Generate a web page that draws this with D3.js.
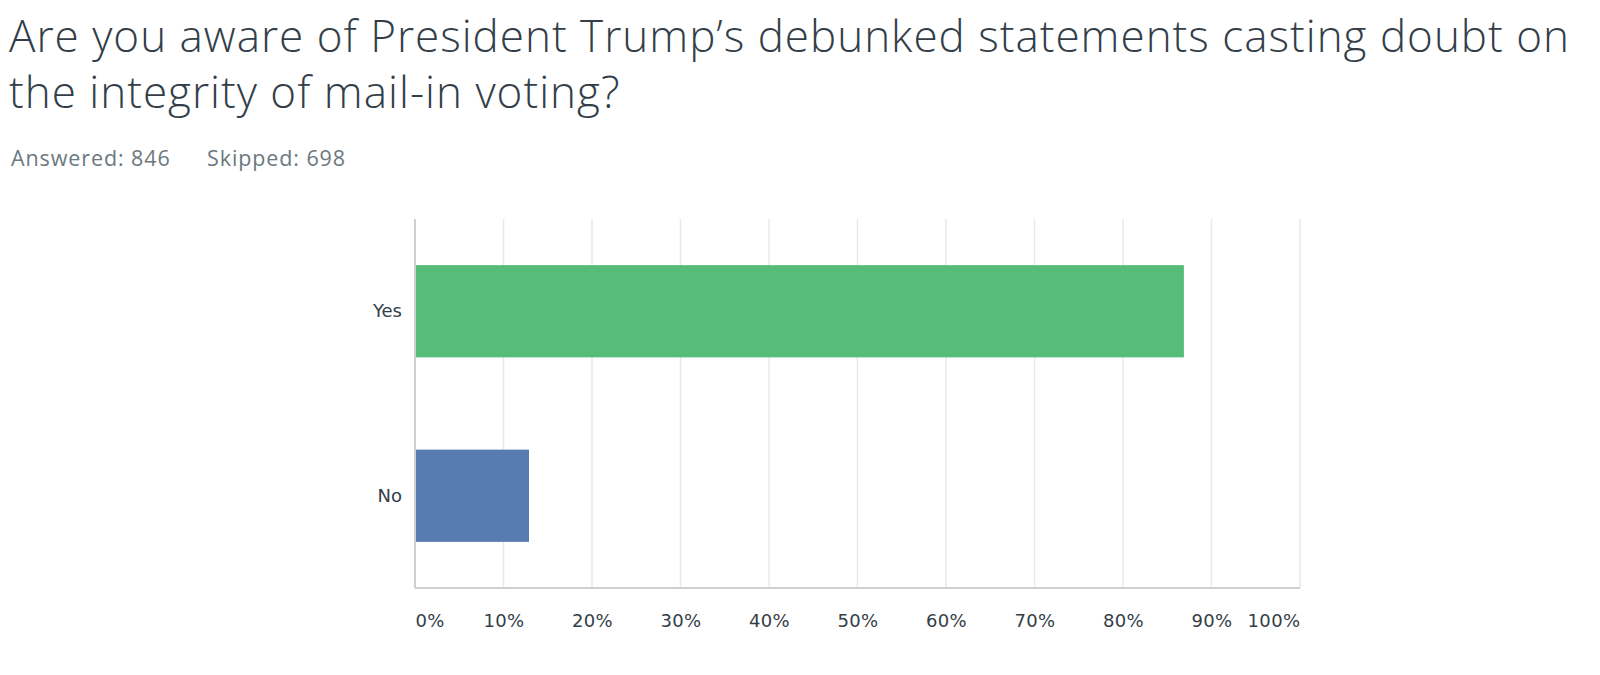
<!DOCTYPE html>
<meta charset="utf-8">
<style>
    body { margin: 0; background: #fff; }
    .title { font-family: "Open Sans", sans-serif; font-weight: 300; fill: #333e48; }
    .meta { font-family: "Open Sans", sans-serif; fill: #6b7880; }
    .tick text { font-family: "DejaVu Sans", sans-serif; fill: #333e48; }
</style>
<svg width="1600" height="675"></svg>
<script src="https://cdnjs.cloudflare.com/ajax/libs/d3/7.8.5/d3.min.js"></script>
<script>

    var titleLines = ["Are you aware of President Trump\u2019s debunked statements casting doubt on",
                      "the integrity of mail-in voting?"];
    var answered = 846,
        skipped = 698;

    var answers = ["Yes", "No"];
    var percents = [86.88, 12.88];
    var colors = ["#56bd78", "#587bb1"];
    var xTicks = [0, 10, 20, 30, 40, 50, 60, 70, 80, 90, 100];

    var margin = {top: 219, right: 300, bottom: 87, left: 415},
        width = 1600 - margin.left - margin.right,
        height = 675 - margin.top - margin.bottom;

    var svg = d3.select("svg");

    svg.selectAll(".title")
        .data(titleLines)
        .enter().append("text")
        .attr("class", "title")
        .attr("font-size", 44)
        .attr("letter-spacing", 1.0)
        .attr("x", 9)
        .attr("y", function(d, i) { return 52 + i * 56; })
        .text(function(d) { return d; });

    svg.append("text")
        .attr("class", "meta")
        .attr("font-size", 21.5)
        .attr("letter-spacing", 0.9)
        .attr("x", 11)
        .attr("y", 166)
        .text("Answered: " + answered);

    svg.append("text")
        .attr("class", "meta")
        .attr("font-size", 21.5)
        .attr("letter-spacing", 0.9)
        .attr("x", 207)
        .attr("y", 166)
        .text("Skipped: " + skipped);

    var g = svg.append("g")
        .attr("transform", "translate(" + margin.left + "," + margin.top + ")");

    var x = d3.scaleLinear()
        .domain([0, 100])
        .range([0, width]);

    var y = d3.scaleBand()
        .domain(answers)
        .range([0, height])
        .paddingInner(0.5)
        .paddingOuter(0.25);

    // grid
    g.selectAll(".grid")
        .data(xTicks.slice(1))
        .enter().append("line")
        .attr("class", "grid")
        .attr("x1", function(d) { return x(d); })
        .attr("x2", function(d) { return x(d); })
        .attr("y1", 0)
        .attr("y2", height)
        .attr("stroke", "#e9e9e9")
        .attr("stroke-width", 1.5);

    g.selectAll(".bar")
        .data(answers)
        .enter().append("rect")
        .attr("class", "bar")
        .attr("x", 0)
        .attr("y", function(d) { return y(d); })
        .attr("width", function(d, i) { return x(percents[i]); })
        .attr("height", y.bandwidth())
        .attr("fill", function(d, i) { return colors[i]; });

    // axes lines
    g.append("line")
        .attr("x1", 0).attr("x2", 0)
        .attr("y1", 0).attr("y2", height)
        .attr("stroke", "#cfcfcf").attr("stroke-width", 2);
    g.append("line")
        .attr("x1", 0).attr("x2", width)
        .attr("y1", height).attr("y2", height)
        .attr("stroke", "#cfcfcf").attr("stroke-width", 2);

    var xAxis = g.append("g")
        .attr("transform", "translate(0," + height + ")")
        .call(d3.axisBottom(x)
            .tickValues(xTicks)
            .tickSize(0)
            .tickPadding(26)
            .tickFormat(function(d) { return d + "%"; }));
    xAxis.select(".domain").remove();
    xAxis.selectAll("text")
        .attr("font-size", 18)
        .attr("letter-spacing", 0.4)
        .attr("text-anchor", function(d) { return d === 0 ? "start" : d === 100 ? "end" : "middle"; });

    var yAxis = g.append("g")
        .call(d3.axisLeft(y).tickSize(0).tickPadding(13));
    yAxis.select(".domain").remove();
    yAxis.selectAll("text").attr("font-size", 18);

</script>
